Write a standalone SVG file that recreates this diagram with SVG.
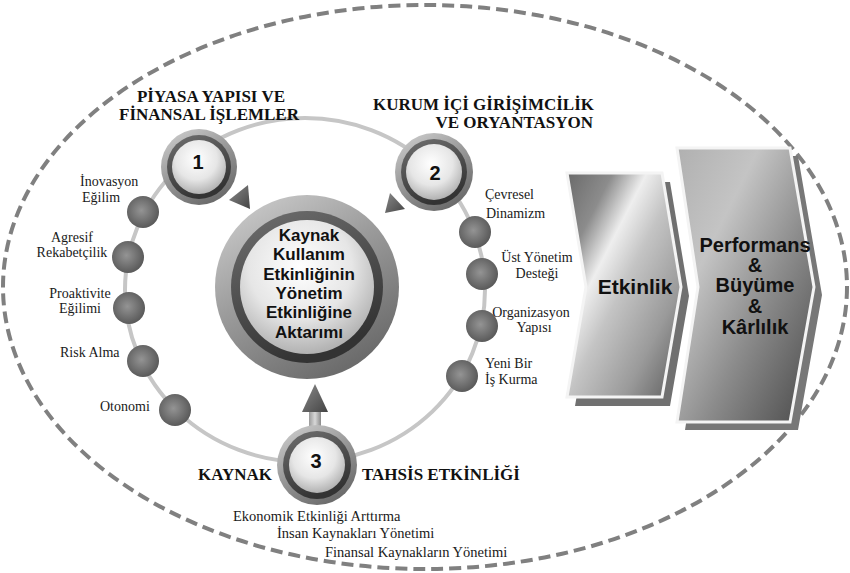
<svg xmlns="http://www.w3.org/2000/svg" width="850" height="573" viewBox="0 0 850 573">
<defs>
<style>
.lbl{font-family:"Liberation Serif","Times New Roman",serif;font-size:14px;fill:#1a1a1a}
.bot{font-family:"Liberation Serif","Times New Roman",serif;font-size:14.5px;fill:#1a1a1a}
.head{font-family:"Liberation Serif","Times New Roman",serif;font-size:17px;font-weight:bold;fill:#111}
.ctr{font-family:"Liberation Sans",Arial,sans-serif;font-size:17px;font-weight:bold;fill:#111;text-anchor:middle}
.num{font-family:"Liberation Sans",Arial,sans-serif;font-size:20px;font-weight:bold;fill:#111;text-anchor:middle}
.chev{font-family:"Liberation Sans",Arial,sans-serif;font-size:20px;font-weight:bold;fill:#111;text-anchor:middle}
.ball{fill:url(#gBall)}
.mid{text-anchor:middle}
</style>
<linearGradient id="gRing" x1="0" y1="0" x2="0.6" y2="1">
<stop offset="0" stop-color="#d4d4d4"/><stop offset="0.5" stop-color="#9c9c9c"/><stop offset="1" stop-color="#6c6c6c"/>
</linearGradient>
<linearGradient id="gDark" x1="0" y1="0" x2="0.4" y2="1">
<stop offset="0" stop-color="#707070"/><stop offset="1" stop-color="#333"/>
</linearGradient>
<radialGradient id="gFace" cx="0.45" cy="0.35" r="0.7">
<stop offset="0" stop-color="#ffffff"/><stop offset="0.55" stop-color="#e6e6e6"/><stop offset="1" stop-color="#a8a8a8"/>
</radialGradient>
<radialGradient id="gBall" cx="0.45" cy="0.45" r="0.6">
<stop offset="0" stop-color="#949494"/><stop offset="1" stop-color="#555"/>
</radialGradient>
<linearGradient id="gArrow" x1="0" y1="0" x2="1" y2="1">
<stop offset="0" stop-color="#8a8a8a"/><stop offset="1" stop-color="#444"/>
</linearGradient>
<linearGradient id="gStem" x1="0" y1="0" x2="1" y2="0">
<stop offset="0" stop-color="#9a9a9a"/><stop offset="0.5" stop-color="#d8d8d8"/><stop offset="1" stop-color="#8a8a8a"/>
</linearGradient>
<linearGradient id="gEtk" x1="0" y1="0" x2="1" y2="1">
<stop offset="0" stop-color="#6a6a6a"/><stop offset="0.2" stop-color="#8c8c8c"/><stop offset="0.35" stop-color="#eeeeee"/><stop offset="0.5" stop-color="#c4c4c4"/><stop offset="0.75" stop-color="#9a9a9a"/><stop offset="1" stop-color="#5a5a5a"/>
</linearGradient>
<linearGradient id="gPerf" x1="0" y1="0" x2="1" y2="1">
<stop offset="0" stop-color="#b0b0b0"/><stop offset="0.3" stop-color="#c4c4c4"/><stop offset="0.6" stop-color="#8c8c8c"/><stop offset="1" stop-color="#484848"/>
</linearGradient>
</defs>
<rect width="850" height="573" fill="#ffffff"/>

<g id="boundary">
<ellipse cx="425" cy="287" rx="422" ry="282" fill="none" stroke="#808080" stroke-width="4" stroke-dasharray="12 6"/>
</g>

<g id="ring">
<ellipse cx="305" cy="290" rx="180" ry="172" fill="none" stroke="#c6c6c6" stroke-width="4"/>
</g>

<g id="connectors">
<polygon points="250,209 229,200 248,185" fill="url(#gArrow)"/>
<polygon points="385,213 390,193 405,209" fill="url(#gArrow)"/>
<rect x="309" y="410" width="12" height="18" fill="url(#gStem)"/>
<polygon points="315,384 302,412 328,412" fill="url(#gArrow)"/>
</g>

<g id="center">
<circle cx="307" cy="287" r="92" fill="url(#gRing)"/>
<circle cx="307" cy="287" r="76" fill="url(#gDark)"/>
<circle cx="307" cy="287" r="67" fill="url(#gFace)"/>
<text class="ctr" x="309" y="241">Kaynak</text>
<text class="ctr" x="309" y="260">Kullanım</text>
<text class="ctr" x="309" y="280">Etkinliğinin</text>
<text class="ctr" x="309" y="299">Yönetim</text>
<text class="ctr" x="309" y="318">Etkinliğine</text>
<text class="ctr" x="309" y="338">Aktarımı</text>
</g>

<g id="node1">
<circle cx="199" cy="167" r="38" fill="url(#gRing)"/>
<circle cx="199" cy="167" r="32" fill="url(#gDark)"/>
<circle cx="199" cy="167" r="27" fill="url(#gFace)"/>
<text class="num" x="198" y="169">1</text>
<text class="head mid" x="211" y="102">PİYASA YAPISI VE</text>
<text class="head mid" x="209" y="120">FİNANSAL İŞLEMLER</text>
</g>

<g id="node2">
<circle cx="434" cy="172" r="39" fill="url(#gRing)"/>
<circle cx="434" cy="172" r="33" fill="url(#gDark)"/>
<circle cx="434" cy="172" r="28" fill="url(#gFace)"/>
<text class="num" x="435" y="180">2</text>
<text class="head" x="373" y="110">KURUM İÇİ GİRİŞİMCİLİK</text>
<text class="head" x="593" y="128" text-anchor="end">VE ORYANTASYON</text>
</g>

<g id="node3">
<circle cx="317" cy="465" r="40" fill="url(#gRing)"/>
<circle cx="317" cy="465" r="34" fill="url(#gDark)"/>
<circle cx="317" cy="465" r="28" fill="url(#gFace)"/>
<text class="num" x="316" y="468">3</text>
<text class="head" x="198" y="480">KAYNAK</text>
<text class="head" x="362" y="480">TAHSİS ETKİNLİĞİ</text>
<text class="bot" x="233" y="521">Ekonomik Etkinliği Arttırma</text>
<text class="bot" x="277" y="538">İnsan Kaynakları Yönetimi</text>
<text class="bot" x="325" y="557">Finansal Kaynakların Yönetimi</text>
</g>

<g id="inovasyon">
<circle class="ball" cx="143" cy="212" r="16"/>
<text class="lbl" x="80" y="186">İnovasyon</text>
<text class="lbl" x="82" y="202">Eğilim</text>
</g>
<g id="agresif">
<circle class="ball" cx="128" cy="257" r="16"/>
<text class="lbl mid" x="72" y="242">Agresif</text>
<text class="lbl mid" x="72" y="257">Rekabetçilik</text>
</g>
<g id="proaktivite">
<circle class="ball" cx="129" cy="308" r="16"/>
<text class="lbl mid" x="80" y="298">Proaktivite</text>
<text class="lbl mid" x="80" y="313">Eğilimi</text>
</g>
<g id="risk">
<circle class="ball" cx="143" cy="361" r="16"/>
<text class="lbl" x="60" y="357">Risk Alma</text>
</g>
<g id="otonomi">
<circle class="ball" cx="175" cy="410" r="16"/>
<text class="lbl" x="100" y="411">Otonomi</text>
</g>

<g id="cevresel">
<circle class="ball" cx="475" cy="232" r="16"/>
<text class="lbl" x="485" y="199">Çevresel</text>
<text class="lbl" x="486" y="218">Dinamizm</text>
</g>
<g id="ustyonetim">
<circle class="ball" cx="482" cy="274" r="16"/>
<text class="lbl mid" x="537" y="262">Üst Yönetim</text>
<text class="lbl mid" x="537" y="278">Desteği</text>
</g>
<g id="organizasyon">
<circle class="ball" cx="482" cy="326" r="16"/>
<text class="lbl mid" x="531" y="317">Organizasyon</text>
<text class="lbl mid" x="534" y="332">Yapısı</text>
</g>
<g id="yenibir">
<circle class="ball" cx="462" cy="376" r="16"/>
<text class="lbl" x="485" y="368">Yeni Bir</text>
<text class="lbl" x="485" y="384">İş Kurma</text>
</g>

<g id="etkinlik">
<polygon points="575,182 670,182 689,296 670,406 575,406 594,296" fill="#707070"/>
<polygon points="567,173 662,173 681,287 662,397 567,397 586,287" fill="url(#gEtk)" stroke="#f4f4f4" stroke-width="3"/>
<text class="chev" x="635" y="294" style="font-size:21px">Etkinlik</text>
</g>

<g id="performans">
<polygon points="685,156 798,156 822,295 798,430 685,430 706,295" fill="#777"/>
<polygon points="677,148 790,148 814,287 790,422 677,422 698,287" fill="url(#gPerf)" stroke="#f4f4f4" stroke-width="3"/>
<text class="chev" x="755" y="252">Performans</text>
<text class="chev" x="755" y="272">&amp;</text>
<text class="chev" x="755" y="292">Büyüme</text>
<text class="chev" x="755" y="313">&amp;</text>
<text class="chev" x="755" y="334">Kârlılık</text>
</g>
</svg>
